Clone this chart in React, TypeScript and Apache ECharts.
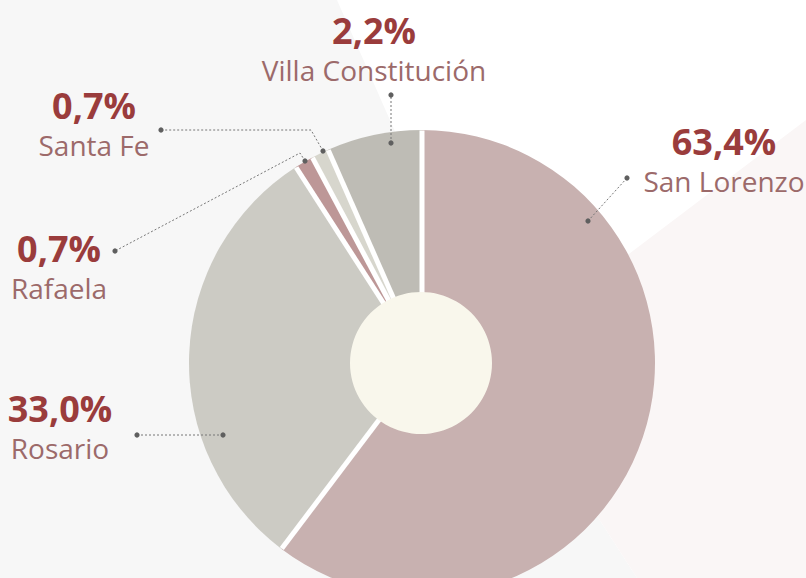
import React, { useEffect, useRef } from "react";
import * as echarts from "echarts";

// Slices in clockwise order from the top
const cities = ["San Lorenzo", "Rosario", "Rafaela", "Santa Fe", "Villa Constitución"];
// Angular share of each slice as drawn in the picture (%)
const arcShares = [60.3, 30.6, 1.3, 1.2, 6.6];
// Printed percentage labels
const shareLabels = ["63,4%", "33,0%", "0,7%", "0,7%", "2,2%"];
const sliceColors = ["#c8b1b0", "#cccbc4", "#bd9797", "#d7d6cd", "#bebcb5"];

// Label block positions (x = centre, y = top of the two-line block)
const labelPos: [number, number][] = [
  [724, 121],
  [60, 388],
  [59, 228],
  [94, 85],
  [374, 10],
];
// Leader lines (dotted) with dots at both ends
const leaderLines: [number, number][][] = [
  [[588, 221], [627, 178]],
  [[223, 435], [137, 435]],
  [[305, 161], [300, 153], [115, 251]],
  [[323, 151], [311, 130], [161, 130]],
  [[391, 143], [391, 95]],
];

const PIE_CX = 422;
const PIE_CY = 363;
const PIE_R = 233;

export default function App() {
  const ref = useRef<HTMLDivElement>(null);
  useEffect(() => {
    if (!ref.current) return;
    const chart = echarts.init(ref.current, undefined, { renderer: "svg" });
    const graphics: any[] = [
      {
        type: "polygon",
        z: -10,
        silent: true,
        shape: { points: [[0, 0], [337, 0], [494, 356], [637, 578], [0, 578]] },
        style: { fill: "#f7f7f7" },
      },
      {
        type: "polygon",
        z: -10,
        silent: true,
        shape: { points: [[806, 120], [806, 578], [637, 578], [494, 356]] },
        style: { fill: "#faf6f6" },
      },
    ];
    // white separators along slice boundaries (computed from the slice shares)
    const total = arcShares.reduce((a, b) => a + b, 0);
    let cum = 0;
    arcShares.forEach((v) => {
      const ang = Math.PI / 2 - (cum / total) * Math.PI * 2;
      cum += v;
      graphics.push({
        type: "line",
        z: 3,
        silent: true,
        shape: {
          x1: PIE_CX,
          y1: PIE_CY,
          x2: PIE_CX + (PIE_R - 0.5) * Math.cos(ang),
          y2: PIE_CY - (PIE_R - 0.5) * Math.sin(ang),
        },
        style: { stroke: "#ffffff", lineWidth: 5, lineCap: "butt" },
      });
    });
    leaderLines.forEach((pts) => {
      graphics.push({
        type: "polyline",
        z: 50,
        silent: true,
        shape: { points: pts },
        style: { stroke: "#777", lineWidth: 1, lineDash: [2, 2], fill: null },
      });
      [pts[0], pts[pts.length - 1]].forEach((p) => {
        graphics.push({
          type: "circle",
          z: 51,
          silent: true,
          shape: { cx: p[0], cy: p[1], r: 2.6 },
          style: { fill: "#5f5f5f" },
        });
      });
    });

    chart.setOption({
      animation: false,
      backgroundColor: "#ffffff",
      graphic: graphics,
      series: [
        {
          type: "pie",
          z: 2,
          center: [PIE_CX, PIE_CY],
          radius: [0, PIE_R],
          startAngle: 90,
          clockwise: true,
          avoidLabelOverlap: false,
          silent: true,
          itemStyle: { borderWidth: 0 },
          label: {
            show: true,
            position: "outside",
            formatter: (p: any) => `{pct|${shareLabels[p.dataIndex]}}\n{name|${p.name}}`,
            rich: {
              pct: {
                fontFamily: "Open Sans",
                fontWeight: "bold",
                fontSize: 36,
                lineHeight: 40,
                color: "#9a3c3c",
                align: "center",
              },
              name: {
                fontFamily: "Open Sans",
                fontSize: 28,
                lineHeight: 40,
                color: "#9c6a6a",
                align: "center",
              },
            },
          },
          labelLine: { show: false },
          labelLayout: (params: any) => {
            const pos = labelPos[params.dataIndex];
            return { x: pos[0], y: pos[1], align: "center", verticalAlign: "top" };
          },
          data: cities.map((name, i) => ({
            name,
            value: arcShares[i],
            itemStyle: { color: sliceColors[i] },
          })),
        },
        {
          type: "pie",
          z: 5,
          center: [421, 363],
          radius: [0, 71],
          silent: true,
          label: { show: false },
          labelLine: { show: false },
          itemStyle: { borderWidth: 0 },
          data: [{ name: "centro", value: 1, itemStyle: { color: "#f9f7ec" } }],
        },
      ],
    });
    return () => chart.dispose();
  }, []);
  return (
    <div
      ref={ref}
      style={{ position: "absolute", left: 0, top: 0, width: 806, height: 578 }}
    />
  );
}
